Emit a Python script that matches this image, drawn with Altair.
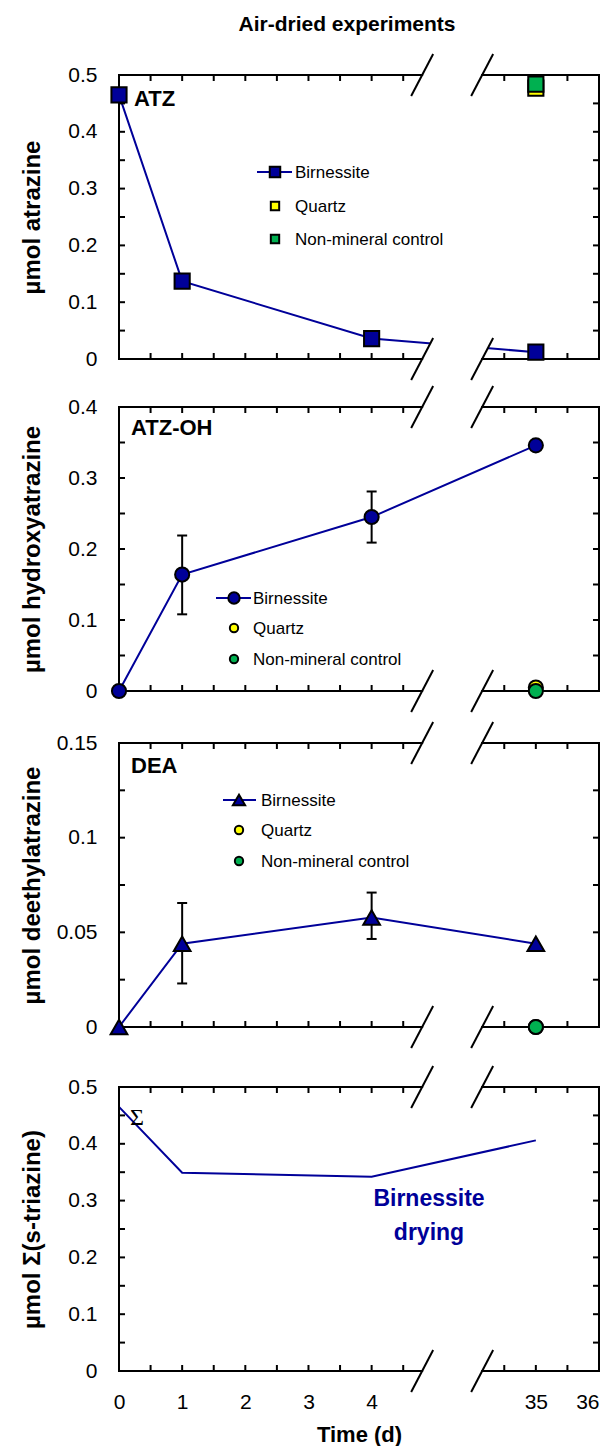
import altair as alt
import pandas as pd

# ---------------- data ----------------
DAYS = [0, 1, 4, 35]
ERR_DAYS = [1, 4]
CONTROL_DAY = [35]

ATZ_BIRN = [0.465, 0.137, 0.036, 0.012]
ATZ_QUARTZ = [0.477]
ATZ_CONTROL = [0.484]

OH_BIRN = [0.0, 0.164, 0.245, 0.346]
OH_LO = [0.108, 0.209]
OH_HI = [0.219, 0.281]
OH_QUARTZ = [0.005]
OH_CONTROL = [0.0]

DEA_BIRN = [0.0, 0.0440, 0.0578, 0.0440]
DEA_LO = [0.0230, 0.0465]
DEA_HI = [0.0655, 0.0710]
DEA_QUARTZ = [0.0]
DEA_CONTROL = [0.0]

SUM_BIRN = [0.465, 0.349, 0.342, 0.406]

X_LABELS = [0, 1, 2, 3, 4, 35, 36]
X_MINOR = [0.5, 1, 1.5, 2, 2.5, 3, 3.5, 4, 4.5, 34.5, 35, 35.5]
SERIES = ["Birnessite", "Quartz", "Non-mineral control"]

# ---------------- style ----------------
BIRN = "#000099"
QUARTZ = "#FFFF00"
CONTROL = "#00B050"
FONT = "Liberation Sans"
W, H = 480, 284
TICK = 6
GAPS = [48, 52, 60]   # vertical space between the four panels

# broken time axis: days 0-4.8, a gap, then days 34.15-36
LEFT_END = 4.8
RIGHT_START = 34.15
GAP = 0.95


def squeeze(d):
    return d if d <= LEFT_END else d - RIGHT_START + LEFT_END + GAP


U_MAX = squeeze(36)
PX = W / U_MAX
SHIFT = RIGHT_START - LEFT_END - GAP


def xs(field, axis=None):
    return alt.X(field, type="quantitative", axis=axis, title=None,
                 scale=alt.Scale(domain=[0, U_MAX], nice=False, zero=False))


def panel(ymax, ymajor, ystep, ytitle, x_axis=None):
    yaxis = alt.Axis(values=ymajor, labelExpr="format(datum.value, '~g')", title=ytitle,
                     domain=False, ticks=False, tickSize=0, grid=False, labelFont=FONT,
                     labelFontSize=21, labelColor="black", labelPadding=22,
                     titleFont=FONT, titleFontSize=24, titleFontWeight="bold",
                     titleColor="black", titleX=-87, titleY=H / 2,
                     titleAlign="center", titleBaseline="middle", titleAngle=270)

    def ys(field):
        return alt.Y(field, type="quantitative", axis=yaxis, title=ytitle,
                     scale=alt.Scale(domain=[0, ymax], nice=False, zero=False))

    def xx(field):
        return xs(field, x_axis)

    sdx = 11 / PX
    sdy = 21 / H * ymax
    r0 = squeeze(RIGHT_START)

    frame = pd.DataFrame({
        "x": [0, U_MAX, 0, r0, 0, r0],
        "x2": [0, U_MAX, LEFT_END, U_MAX, LEFT_END, U_MAX],
        "y": [0, 0, 0, 0, ymax, ymax],
        "y2": [ymax, ymax, 0, 0, ymax, ymax],
    })
    n = int(round(ymax / ystep))
    yt = pd.DataFrame({"y": [round(i * ystep, 6) for i in range(1, n)]})
    yt["x0"] = 0.0
    yt["x1"] = U_MAX
    xt = pd.DataFrame({"u": [squeeze(d) for d in X_MINOR]})
    xt["y0"] = 0.0
    xt["y1"] = ymax

    mask_rows, slash_rows = [], []
    for k, yc in enumerate([0, ymax]):
        mask_rows.append({"g": k, "y": yc - sdy, "x": LEFT_END - sdx, "x2": r0 - sdx})
        mask_rows.append({"g": k, "y": yc + sdy, "x": LEFT_END + sdx, "x2": r0 + sdx})
        for uc in [LEFT_END, r0]:
            slash_rows.append({"x": uc - sdx, "x2": uc + sdx, "y": yc - sdy, "y2": yc + sdy})
    mask = pd.DataFrame(mask_rows)
    slashes = pd.DataFrame(slash_rows)

    layers = [
        alt.Chart(mask).mark_area(orient="horizontal", color="white", opacity=1)
        .encode(y=ys("y"), x=xx("x"), x2="x2", detail="g:N"),
        alt.Chart(frame).mark_rule(color="black", strokeWidth=2, strokeCap="square")
        .encode(x=xx("x"), x2="x2", y=ys("y"), y2="y2"),
        alt.Chart(yt).mark_rule(color="black", strokeWidth=2, x2Offset=TICK)
        .encode(x=xx("x0"), x2="x0", y=ys("y")),
        alt.Chart(yt).mark_rule(color="black", strokeWidth=2, x2Offset=-TICK)
        .encode(x=xx("x1"), x2="x1", y=ys("y")),
        alt.Chart(xt).mark_rule(color="black", strokeWidth=2, y2Offset=-TICK)
        .encode(x=xx("u"), y=ys("y0"), y2="y0"),
        alt.Chart(xt).mark_rule(color="black", strokeWidth=2, y2Offset=TICK)
        .encode(x=xx("u"), y=ys("y1"), y2="y1"),
        alt.Chart(slashes).mark_rule(color="black", strokeWidth=2)
        .encode(x=xx("x"), x2="x2", y=ys("y"), y2="y2"),
    ]
    return layers, xx, ys


def series_frame(values, days=DAYS):
    return pd.DataFrame({"u": [squeeze(d) for d in days], "v": values})


def legend(shapes, size_main, rows_y, mx, line_x0, line_x1, text_x, msize=70):
    out = []
    colors = [BIRN, QUARTZ, CONTROL]
    out.append(alt.Chart(pd.DataFrame({"s": [SERIES[0]]})).mark_rule(color=BIRN, strokeWidth=2)
               .encode(x=alt.value(line_x0), x2=alt.value(line_x1), y=alt.value(rows_y[0])))
    for i, lab in enumerate(SERIES):
        d = pd.DataFrame({"s": [lab]})
        out.append(alt.Chart(d).mark_point(shape=shapes[i], filled=True, fill=colors[i],
                                           stroke="black", strokeWidth=2, opacity=1,
                                           size=size_main if i == 0 else msize)
                   .encode(x=alt.value(mx), y=alt.value(rows_y[i])))
        out.append(alt.Chart(d).mark_text(align="left", baseline="middle", font=FONT, fontSize=17,
                                          color="black")
                   .encode(x=alt.value(text_x), y=alt.value(rows_y[i] + 1), text="s:N"))
    return out


def label(text, x, y, size=22, color="black", font=FONT, weight="bold", align="left"):
    return alt.Chart(pd.DataFrame({"t": [text]})).mark_text(
        align=align, baseline="middle", font=font, fontSize=size, fontWeight=weight, color=color
    ).encode(x=alt.value(x), y=alt.value(y), text="t:N")


def data_layers(xx, ys, values, lo=None, hi=None):
    out = []
    d = series_frame(values)
    out.append(alt.Chart(d).mark_line(color=BIRN, strokeWidth=2).encode(x=xx("u"), y=ys("v")))
    if lo is not None:
        e = pd.DataFrame({"u": [squeeze(v) for v in ERR_DAYS], "lo": lo, "hi": hi})
        out.append(alt.Chart(e).mark_rule(color="black", strokeWidth=2)
                   .encode(x=xx("u"), y=ys("lo"), y2="hi"))
        for f in ["lo", "hi"]:
            out.append(alt.Chart(e).mark_rule(color="black", strokeWidth=2, xOffset=-5, x2Offset=5)
                       .encode(x=xx("u"), x2="u", y=ys(f)))
    return out, d


def markers(xx, ys, d, shape, size, quartz, control, ctrl_shape, size_ctrl):
    out = [alt.Chart(d).mark_point(shape=shape, filled=True, fill=BIRN, stroke="black",
                                   strokeWidth=2, opacity=1, size=size)
           .encode(x=xx("u"), y=ys("v"))]
    for vals, col in [(quartz, QUARTZ), (control, CONTROL)]:
        out.append(alt.Chart(series_frame(vals, CONTROL_DAY))
                   .mark_point(shape=ctrl_shape, filled=True, fill=col, stroke="black",
                               strokeWidth=2, opacity=1, size=size_ctrl)
                   .encode(x=xx("u"), y=ys("v")))
    return out


def spacer(h):
    return alt.Chart(pd.DataFrame({"z": [0]})).mark_point(opacity=0).encode(
        x=alt.value(0), y=alt.value(0)).properties(width=W, height=h)


# ---- ATZ ----
base, xx, ys = panel(0.5, [0, 0.1, 0.2, 0.3, 0.4, 0.5], 0.05, "µmol atrazine")
lines, d = data_layers(xx, ys, ATZ_BIRN)
p1 = alt.layer(
    *lines, *base,
    *markers(xx, ys, d, "square", 230, ATZ_QUARTZ, ATZ_CONTROL, "square", 230),
    label("ATZ", 15, 24),
    label("Air-dried experiments", 228, -50, size=21, align="center"),
    *legend(["square"] * 3, 110, [97, 131, 164], 156, 138, 173, 176),
).properties(width=W, height=H)

# ---- ATZ-OH ----
base, xx, ys = panel(0.4, [0, 0.1, 0.2, 0.3, 0.4], 0.05, "µmol hydroxyatrazine")
lines, d = data_layers(xx, ys, OH_BIRN, OH_LO, OH_HI)
p2 = alt.layer(
    *lines, *base,
    *markers(xx, ys, d, "circle", 200, OH_QUARTZ, OH_CONTROL, "circle", 200),
    label("ATZ-OH", 12, 21),
    *legend(["circle"] * 3, 130, [191, 221, 252], 115, 97, 132, 134),
).properties(width=W, height=H)

# ---- DEA ----
base, xx, ys = panel(0.15, [0, 0.05, 0.1, 0.15], 0.025, "µmol deethylatrazine")
lines, d = data_layers(xx, ys, DEA_BIRN, DEA_LO, DEA_HI)
p3 = alt.layer(
    *lines, *base,
    *markers(xx, ys, d, "triangle-up", 280, DEA_QUARTZ, DEA_CONTROL, "circle", 200),
    label("DEA", 12, 23),
    *legend(["triangle-up", "circle", "circle"], 150, [57, 87, 118], 120, 104, 137, 142),
).properties(width=W, height=H)

# ---- sum of s-triazines ----
time_axis = alt.Axis(values=[squeeze(v) for v in X_LABELS],
                     labelExpr=f"format(datum.value > {LEFT_END} ? datum.value + {SHIFT} : datum.value, '.0f')",
                     labelAlign={"expr": f"datum.value > {U_MAX - 0.5} ? 'right' : 'center'"},
                     title="Time (d)", domain=False, ticks=False, tickSize=0, grid=False,
                     labelFont=FONT, labelFontSize=21, labelColor="black", labelPadding=20,
                     labelFlush=False, labelOverlap=False,
                     titleFont=FONT, titleFontSize=22, titleFontWeight="bold", titleColor="black",
                     titleX=W / 2, titleY=63, titleAlign="center", titleBaseline="middle")
base, xx, ys = panel(0.5, [0, 0.1, 0.2, 0.3, 0.4, 0.5], 0.05, "µmol Σ(s-triazine)", x_axis=time_axis)
lines, d = data_layers(xx, ys, SUM_BIRN)
p4 = alt.layer(
    *lines, *base,
    label("Σ", 18, 31, size=24, font="Liberation Serif", weight="normal", align="center"),
    label("Birnessite", 310, 112, size=23, color=BIRN, align="center"),
    label("drying", 310, 146, size=23, color=BIRN, align="center"),
).properties(width=W, height=H)

chart = alt.vconcat(
    p1, spacer(GAPS[0]), p2, spacer(GAPS[1]), p3, spacer(GAPS[2]), p4,
    spacing=0, bounds="flush",
).properties(
    padding={"left": 20, "top": 14, "right": 2, "bottom": 1},
    background="white",
).configure_view(stroke=None)

chart.save("out.html", embed_options={"renderer": "svg", "actions": False})
